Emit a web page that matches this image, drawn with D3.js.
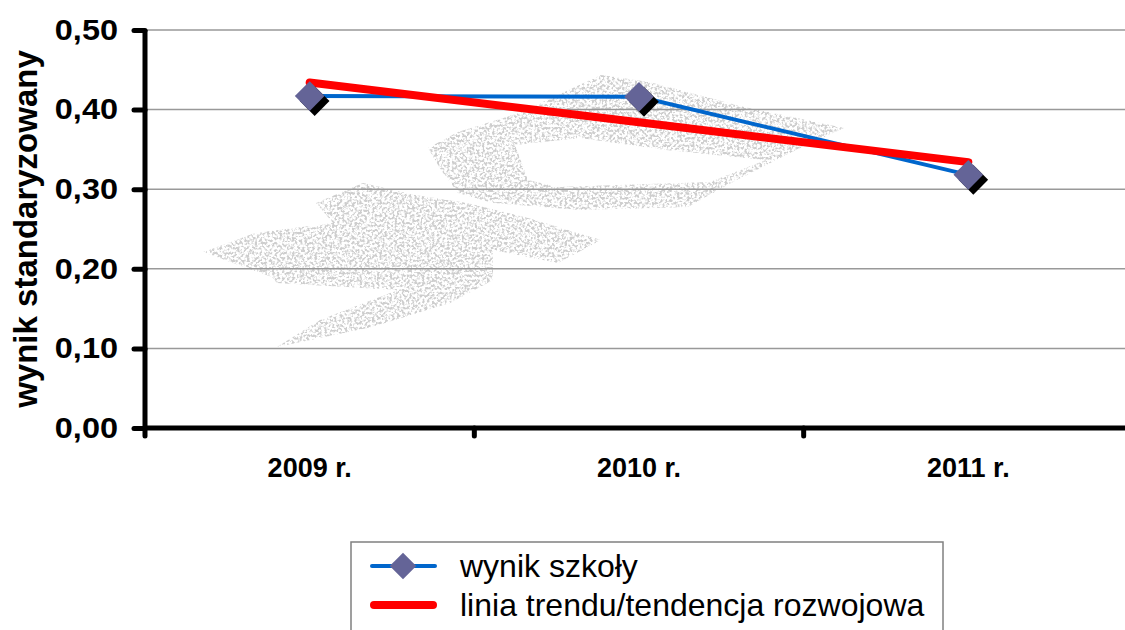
<!DOCTYPE html>
<html>
<head>
<meta charset="utf-8">
<script src="https://cdn.jsdelivr.net/npm/d3@7"></script>
<style>
  body { margin: 0; background: #fff; }
  svg { display: block; font-family: "Liberation Sans", Arial, sans-serif; }
</style>
</head>
<body>
<svg id="chart" width="1125" height="630"></svg>
<script>
// data
var years = ["2009 r.", "2010 r.", "2011 r."];
var schoolScore = [0.417, 0.416, 0.318];
var trendScore = [0.434, 0.384, 0.334];
var yTicks = [0, 0.1, 0.2, 0.3, 0.4, 0.5];
var legendNames = ["wynik szkoły", "linia trendu/tendencja rozwojowa"];

var svg = d3.select("#chart");
var plotL = 145, plotR = 1133, plotT = 30, plotB = 428;

var x = d3.scaleBand().domain(years).range([plotL, plotR]);
var y = d3.scaleLinear().domain([0, 0.5]).range([plotB, plotT]);
var fmt = function(d){ return d3.format(".2f")(d).replace(".", ","); };

// stipple filter for the watermark
var defs = svg.append("defs");
var f = defs.append("filter").attr("id", "stipple")
  .attr("x", 0).attr("y", 0).attr("width", 1).attr("height", 1);
f.append("feTurbulence").attr("type", "fractalNoise").attr("baseFrequency", 0.4)
  .attr("numOctaves", 2).attr("seed", 5).attr("result", "noise");
f.append("feColorMatrix").attr("in", "noise").attr("type", "matrix")
  .attr("values", "0 0 0 0 0.62  0 0 0 0 0.62  0 0 0 0 0.62  5 0 0 0 -2.2")
  .attr("result", "dots");
f.append("feComposite").attr("in", "dots").attr("in2", "SourceGraphic")
  .attr("operator", "in").attr("result", "cut");
f.append("feGaussianBlur").attr("in", "cut").attr("stdDeviation", 0.35);

var wmOuter = [[428,148],[458,132],[519,113],[601,75],[649,82],[744,107],[844,128],
  [796,150],[731,183],[688,207],[580,210],[493,203],[458,193],[441,170]];
var wmHole = [[515,145],[580,138],[666,150],[766,160],[710,182],[558,187],[528,180]];
var wmLow = [[316,203],[363,183],[415,195],[467,203],[528,218],[601,240],[558,263],
  [493,250],[493,280],[450,303],[372,327],[277,347],[320,320],[398,290],[277,283],
  [272,277],[203,252],[255,233],[333,223]];
var ring = function(p){ return "M" + p.map(function(d){ return d.join(","); }).join("L") + "Z"; };

svg.append("path")
  .attr("d", ring(wmOuter) + ring(wmHole) + ring(wmLow))
  .attr("fill-rule", "evenodd")
  .attr("fill", "#000")
  .attr("filter", "url(#stipple)");

// gridlines
svg.append("g").selectAll("line")
  .data(yTicks.filter(function(d){ return d > 0; }))
  .enter().append("line")
  .attr("x1", plotL).attr("x2", 1125)
  .attr("y1", function(d){ return y(d); }).attr("y2", function(d){ return y(d); })
  .style("stroke", "#999").style("stroke-width", 1.5);

// y axis
var yAxis = svg.append("g").attr("transform", "translate(" + plotL + ",0)")
  .call(d3.axisLeft(y).tickValues(yTicks).tickFormat(fmt).tickSize(11).tickPadding(14));
yAxis.select(".domain").attr("d", "M0," + plotT + "V" + plotB)
  .style("stroke", "#000").style("stroke-width", 5);
yAxis.selectAll(".tick line").style("stroke", "#000").style("stroke-width", 5)
  .attr("stroke-linecap", "round");
yAxis.selectAll(".tick text")
  .attr("x", 0).attr("transform", "translate(-27,0) scale(1.12,1)")
  .style("font-size", "29px").style("font-weight", "bold")
  .attr("fill", "#000");

// x axis
var xAxis = svg.append("g").attr("transform", "translate(0," + plotB + ")")
  .call(d3.axisBottom(x).tickSize(0).tickPadding(30));
xAxis.select(".domain").attr("d", "M" + plotL + ",0H1125")
  .style("stroke", "#000").style("stroke-width", 5);
xAxis.selectAll(".tick text").style("font-size", "27px").style("font-weight", "bold")
  .attr("fill", "#000");
svg.append("g").selectAll("line")
  .data(years)
  .enter().append("line")
  .attr("x1", function(d){ return x(d); }).attr("x2", function(d){ return x(d); })
  .attr("y1", plotB).attr("y2", plotB + 8)
  .style("stroke", "#000").style("stroke-width", 5).attr("stroke-linecap", "round");

// y title
svg.append("text")
  .attr("transform", "translate(37," + ((plotT + plotB) / 2) + ") rotate(-90)")
  .attr("text-anchor", "middle")
  .style("font-size", "33px").style("font-weight", "bold")
  .text("wynik standaryzowany");

var cx = function(d, i){ return x(years[i]) + x.bandwidth() / 2; };

// school series
var line = d3.line().x(cx).y(function(d){ return y(d); });
svg.append("path").datum(schoolScore).attr("d", line)
  .attr("fill", "none").style("stroke", "#0066CC").style("stroke-width", 4);

// trend line
svg.append("path").datum(trendScore).attr("d", line)
  .attr("fill", "none").style("stroke", "#FF0000").style("stroke-width", 8)
  .attr("stroke-linecap", "round");

// markers with shadow
var diamond = d3.symbol().type(d3.symbolDiamond2).size(560);
var marks = svg.append("g").selectAll("g")
  .data(schoolScore).enter().append("g")
  .attr("transform", function(d, i){ return "translate(" + cx(d, i) + "," + y(d) + ")"; });
marks.append("path").attr("d", diamond).attr("transform", "translate(5,5)").attr("fill", "#000");
marks.append("path").attr("d", diamond).attr("fill", "#646497");

// legend
var lg = svg.append("g");
lg.append("rect").attr("x", 351).attr("y", 542).attr("width", 592).attr("height", 100)
  .attr("fill", "#fff").style("stroke", "#808080").style("stroke-width", 1.5);
var rows = [566, 605];
lg.append("line").attr("x1", 372).attr("x2", 435).attr("y1", rows[0]).attr("y2", rows[0])
  .style("stroke", "#0066CC").style("stroke-width", 4).attr("stroke-linecap", "round");
lg.append("path").attr("d", d3.symbol().type(d3.symbolDiamond2).size(450))
  .attr("transform", "translate(403," + rows[0] + ")").attr("fill", "#646497");
lg.append("line").attr("x1", 374).attr("x2", 433).attr("y1", rows[1]).attr("y2", rows[1])
  .style("stroke", "#FF0000").style("stroke-width", 8).attr("stroke-linecap", "round");
lg.selectAll("text.lab").data(legendNames).enter().append("text")
  .attr("class", "lab")
  .attr("x", 460).attr("y", function(d, i){ return rows[i] + 11; })
  .style("font-size", "32px")
  .text(function(d){ return d; });
</script>
</body>
</html>
